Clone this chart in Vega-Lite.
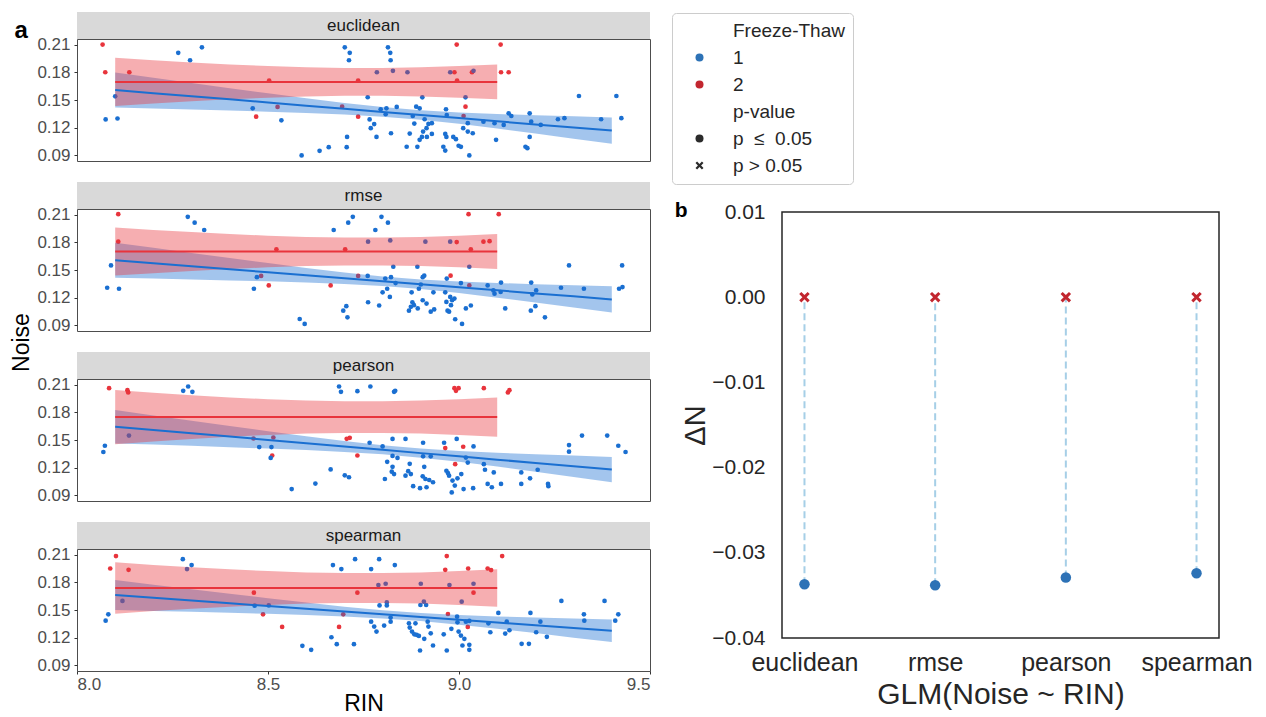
{
"$schema": "https://vega.github.io/schema/vega-lite/v6.json",
"background": "white",
"padding": {"left": 10, "top": 11, "right": 8, "bottom": 0},
"config": {"font": "Liberation Sans", "view": {"stroke": null}},
"datasets": {
"pts": [
{"metric":"euclidean","ft":"2","RIN":8.067,"Noise":0.210},{"metric":"euclidean","ft":"2","RIN":8.074,"Noise":0.180},{"metric":"euclidean","ft":"2","RIN":8.137,"Noise":0.180},{"metric":"euclidean","ft":"2","RIN":8.469,"Noise":0.132},{"metric":"euclidean","ft":"2","RIN":8.503,"Noise":0.171},{"metric":"euclidean","ft":"2","RIN":8.525,"Noise":0.1425},{"metric":"euclidean","ft":"2","RIN":8.694,"Noise":0.1428},{"metric":"euclidean","ft":"2","RIN":8.736,"Noise":0.132},{"metric":"euclidean","ft":"2","RIN":8.736,"Noise":0.171},{"metric":"euclidean","ft":"2","RIN":8.988,"Noise":0.180},{"metric":"euclidean","ft":"2","RIN":8.994,"Noise":0.210},{"metric":"euclidean","ft":"2","RIN":8.995,"Noise":0.171},{"metric":"euclidean","ft":"2","RIN":9.017,"Noise":0.1428},{"metric":"euclidean","ft":"2","RIN":9.012,"Noise":0.1327},{"metric":"euclidean","ft":"2","RIN":9.034,"Noise":0.180},{"metric":"euclidean","ft":"2","RIN":9.109,"Noise":0.210},{"metric":"euclidean","ft":"2","RIN":9.110,"Noise":0.180},{"metric":"euclidean","ft":"2","RIN":9.130,"Noise":0.180},
{"metric":"euclidean","ft":"1","RIN":8.100,"Noise":0.154},{"metric":"euclidean","ft":"1","RIN":8.075,"Noise":0.129},{"metric":"euclidean","ft":"1","RIN":8.106,"Noise":0.130},{"metric":"euclidean","ft":"1","RIN":8.265,"Noise":0.201},{"metric":"euclidean","ft":"1","RIN":8.296,"Noise":0.193},{"metric":"euclidean","ft":"1","RIN":8.327,"Noise":0.207},{"metric":"euclidean","ft":"1","RIN":8.460,"Noise":0.141},{"metric":"euclidean","ft":"1","RIN":8.535,"Noise":0.128},{"metric":"euclidean","ft":"1","RIN":8.588,"Noise":0.090},{"metric":"euclidean","ft":"1","RIN":8.635,"Noise":0.095},{"metric":"euclidean","ft":"1","RIN":8.659,"Noise":0.099},{"metric":"euclidean","ft":"1","RIN":8.701,"Noise":0.207},{"metric":"euclidean","ft":"1","RIN":8.714,"Noise":0.201},{"metric":"euclidean","ft":"1","RIN":8.712,"Noise":0.193},{"metric":"euclidean","ft":"1","RIN":8.707,"Noise":0.110},{"metric":"euclidean","ft":"1","RIN":8.706,"Noise":0.099},
{"metric":"euclidean","ft":"1","RIN":8.761,"Noise":0.153},{"metric":"euclidean","ft":"1","RIN":8.766,"Noise":0.129},{"metric":"euclidean","ft":"1","RIN":8.769,"Noise":0.1195},{"metric":"euclidean","ft":"1","RIN":8.778,"Noise":0.124},{"metric":"euclidean","ft":"1","RIN":8.784,"Noise":0.110},{"metric":"euclidean","ft":"1","RIN":8.785,"Noise":0.180},{"metric":"euclidean","ft":"1","RIN":8.795,"Noise":0.140},{"metric":"euclidean","ft":"1","RIN":8.810,"Noise":0.141},{"metric":"euclidean","ft":"1","RIN":8.808,"Noise":0.1346},{"metric":"euclidean","ft":"1","RIN":8.814,"Noise":0.207},{"metric":"euclidean","ft":"1","RIN":8.820,"Noise":0.201},{"metric":"euclidean","ft":"1","RIN":8.821,"Noise":0.193},{"metric":"euclidean","ft":"1","RIN":8.827,"Noise":0.1816},{"metric":"euclidean","ft":"1","RIN":8.822,"Noise":0.114},{"metric":"euclidean","ft":"1","RIN":8.837,"Noise":0.1425},{"metric":"euclidean","ft":"1","RIN":8.865,"Noise":0.180},{"metric":"euclidean","ft":"1","RIN":8.863,"Noise":0.0994},{"metric":"euclidean","ft":"1","RIN":8.871,"Noise":0.1137},{"metric":"euclidean","ft":"1","RIN":8.879,"Noise":0.1327},{"metric":"euclidean","ft":"1","RIN":8.883,"Noise":0.1245},{"metric":"euclidean","ft":"1","RIN":8.888,"Noise":0.1428},{"metric":"euclidean","ft":"1","RIN":8.897,"Noise":0.141},{"metric":"euclidean","ft":"1","RIN":8.904,"Noise":0.1529},{"metric":"euclidean","ft":"1","RIN":8.910,"Noise":0.1292},{"metric":"euclidean","ft":"1","RIN":8.891,"Noise":0.0993},{"metric":"euclidean","ft":"1","RIN":8.897,"Noise":0.1069},{"metric":"euclidean","ft":"1","RIN":8.903,"Noise":0.110},{"metric":"euclidean","ft":"1","RIN":8.906,"Noise":0.1158},{"metric":"euclidean","ft":"1","RIN":8.915,"Noise":0.1195},{"metric":"euclidean","ft":"1","RIN":8.920,"Noise":0.1241},{"metric":"euclidean","ft":"1","RIN":8.916,"Noise":0.110},{"metric":"euclidean","ft":"1","RIN":8.929,"Noise":0.1133},{"metric":"euclidean","ft":"1","RIN":8.929,"Noise":0.1249},{"metric":"euclidean","ft":"1","RIN":8.959,"Noise":0.0994},{"metric":"euclidean","ft":"1","RIN":8.964,"Noise":0.0953},{"metric":"euclidean","ft":"1","RIN":8.964,"Noise":0.1133},{"metric":"euclidean","ft":"1","RIN":8.967,"Noise":0.110},{"metric":"euclidean","ft":"1","RIN":8.966,"Noise":0.140},{"metric":"euclidean","ft":"1","RIN":8.968,"Noise":0.1338},{"metric":"euclidean","ft":"1","RIN":8.977,"Noise":0.180},{"metric":"euclidean","ft":"1","RIN":8.985,"Noise":0.110},{"metric":"euclidean","ft":"1","RIN":8.992,"Noise":0.1076},{"metric":"euclidean","ft":"1","RIN":8.999,"Noise":0.1005},{"metric":"euclidean","ft":"1","RIN":9.005,"Noise":0.0993},{"metric":"euclidean","ft":"1","RIN":9.017,"Noise":0.1529},{"metric":"euclidean","ft":"1","RIN":9.011,"Noise":0.1195},{"metric":"euclidean","ft":"1","RIN":9.023,"Noise":0.1249},{"metric":"euclidean","ft":"1","RIN":9.023,"Noise":0.1158},{"metric":"euclidean","ft":"1","RIN":9.036,"Noise":0.114},{"metric":"euclidean","ft":"1","RIN":9.027,"Noise":0.090},{"metric":"euclidean","ft":"1","RIN":9.038,"Noise":0.1816},{"metric":"euclidean","ft":"1","RIN":9.064,"Noise":0.1266},{"metric":"euclidean","ft":"1","RIN":9.093,"Noise":0.1249},{"metric":"euclidean","ft":"1","RIN":9.097,"Noise":0.1069},{"metric":"euclidean","ft":"1","RIN":9.117,"Noise":0.123},{"metric":"euclidean","ft":"1","RIN":9.130,"Noise":0.1356},{"metric":"euclidean","ft":"1","RIN":9.137,"Noise":0.1327},{"metric":"euclidean","ft":"1","RIN":9.174,"Noise":0.0994},{"metric":"euclidean","ft":"1","RIN":9.179,"Noise":0.0979},{"metric":"euclidean","ft":"1","RIN":9.185,"Noise":0.110},{"metric":"euclidean","ft":"1","RIN":9.185,"Noise":0.1356},{"metric":"euclidean","ft":"1","RIN":9.189,"Noise":0.1266},{"metric":"euclidean","ft":"1","RIN":9.214,"Noise":0.123},{"metric":"euclidean","ft":"1","RIN":9.259,"Noise":0.1292},{"metric":"euclidean","ft":"1","RIN":9.276,"Noise":0.1303},{"metric":"euclidean","ft":"1","RIN":9.314,"Noise":0.1543},{"metric":"euclidean","ft":"1","RIN":9.372,"Noise":0.1292},{"metric":"euclidean","ft":"1","RIN":9.412,"Noise":0.1543},{"metric":"euclidean","ft":"1","RIN":9.425,"Noise":0.1303},
{"metric":"rmse","ft":"2","RIN":8.108,"Noise":0.2104},{"metric":"rmse","ft":"2","RIN":8.108,"Noise":0.1806},{"metric":"rmse","ft":"2","RIN":8.482,"Noise":0.1436},{"metric":"rmse","ft":"2","RIN":8.502,"Noise":0.1333},{"metric":"rmse","ft":"2","RIN":8.522,"Noise":0.1724},{"metric":"rmse","ft":"2","RIN":8.664,"Noise":0.1333},{"metric":"rmse","ft":"2","RIN":8.702,"Noise":0.1724},{"metric":"rmse","ft":"2","RIN":8.736,"Noise":0.1436},{"metric":"rmse","ft":"2","RIN":8.994,"Noise":0.1802},{"metric":"rmse","ft":"2","RIN":9.025,"Noise":0.2104},{"metric":"rmse","ft":"2","RIN":8.978,"Noise":0.1439},{"metric":"rmse","ft":"2","RIN":9.031,"Noise":0.1724},{"metric":"rmse","ft":"2","RIN":9.027,"Noise":0.1333},{"metric":"rmse","ft":"2","RIN":9.064,"Noise":0.1806},{"metric":"rmse","ft":"2","RIN":9.080,"Noise":0.1812},{"metric":"rmse","ft":"2","RIN":9.104,"Noise":0.2104},
{"metric":"rmse","ft":"1","RIN":8.089,"Noise":0.155},{"metric":"rmse","ft":"1","RIN":8.079,"Noise":0.1308},{"metric":"rmse","ft":"1","RIN":8.110,"Noise":0.1297},{"metric":"rmse","ft":"1","RIN":8.290,"Noise":0.2075},{"metric":"rmse","ft":"1","RIN":8.308,"Noise":0.2012},{"metric":"rmse","ft":"1","RIN":8.333,"Noise":0.1933},{"metric":"rmse","ft":"1","RIN":8.463,"Noise":0.1297},{"metric":"rmse","ft":"1","RIN":8.471,"Noise":0.1422},{"metric":"rmse","ft":"1","RIN":8.583,"Noise":0.097},{"metric":"rmse","ft":"1","RIN":8.596,"Noise":0.0917},{"metric":"rmse","ft":"1","RIN":8.672,"Noise":0.1933},{"metric":"rmse","ft":"1","RIN":8.710,"Noise":0.2012},{"metric":"rmse","ft":"1","RIN":8.722,"Noise":0.2075},{"metric":"rmse","ft":"1","RIN":8.697,"Noise":0.106},{"metric":"rmse","ft":"1","RIN":8.705,"Noise":0.1109},{"metric":"rmse","ft":"1","RIN":8.708,"Noise":0.0988},
{"metric":"rmse","ft":"1","RIN":8.761,"Noise":0.1436},{"metric":"rmse","ft":"1","RIN":8.762,"Noise":0.1151},{"metric":"rmse","ft":"1","RIN":8.762,"Noise":0.1806},{"metric":"rmse","ft":"1","RIN":8.781,"Noise":0.1933},{"metric":"rmse","ft":"1","RIN":8.797,"Noise":0.2075},{"metric":"rmse","ft":"1","RIN":8.814,"Noise":0.2012},{"metric":"rmse","ft":"1","RIN":8.791,"Noise":0.1116},{"metric":"rmse","ft":"1","RIN":8.800,"Noise":0.1258},{"metric":"rmse","ft":"1","RIN":8.807,"Noise":0.1407},{"metric":"rmse","ft":"1","RIN":8.812,"Noise":0.1297},{"metric":"rmse","ft":"1","RIN":8.820,"Noise":0.182},{"metric":"rmse","ft":"1","RIN":8.822,"Noise":0.1422},{"metric":"rmse","ft":"1","RIN":8.819,"Noise":0.1209},{"metric":"rmse","ft":"1","RIN":8.828,"Noise":0.1535},{"metric":"rmse","ft":"1","RIN":8.834,"Noise":0.1358},{"metric":"rmse","ft":"1","RIN":8.869,"Noise":0.106},{"metric":"rmse","ft":"1","RIN":8.874,"Noise":0.1102},{"metric":"rmse","ft":"1","RIN":8.878,"Noise":0.1151},{"metric":"rmse","ft":"1","RIN":8.876,"Noise":0.1258},{"metric":"rmse","ft":"1","RIN":8.882,"Noise":0.1119},{"metric":"rmse","ft":"1","RIN":8.891,"Noise":0.1535},{"metric":"rmse","ft":"1","RIN":8.892,"Noise":0.1084},{"metric":"rmse","ft":"1","RIN":8.895,"Noise":0.1297},{"metric":"rmse","ft":"1","RIN":8.900,"Noise":0.1343},{"metric":"rmse","ft":"1","RIN":8.905,"Noise":0.1422},{"metric":"rmse","ft":"1","RIN":8.909,"Noise":0.1439},{"metric":"rmse","ft":"1","RIN":8.905,"Noise":0.1173},{"metric":"rmse","ft":"1","RIN":8.915,"Noise":0.1137},{"metric":"rmse","ft":"1","RIN":8.912,"Noise":0.1806},{"metric":"rmse","ft":"1","RIN":8.926,"Noise":0.1049},{"metric":"rmse","ft":"1","RIN":8.935,"Noise":0.1073},{"metric":"rmse","ft":"1","RIN":8.933,"Noise":0.1258},{"metric":"rmse","ft":"1","RIN":8.964,"Noise":0.1258},{"metric":"rmse","ft":"1","RIN":8.968,"Noise":0.1407},{"metric":"rmse","ft":"1","RIN":8.967,"Noise":0.1155},{"metric":"rmse","ft":"1","RIN":8.970,"Noise":0.106},{"metric":"rmse","ft":"1","RIN":8.977,"Noise":0.1209},{"metric":"rmse","ft":"1","RIN":8.979,"Noise":0.1119},{"metric":"rmse","ft":"1","RIN":8.982,"Noise":0.1173},{"metric":"rmse","ft":"1","RIN":8.988,"Noise":0.1191},{"metric":"rmse","ft":"1","RIN":8.974,"Noise":0.1049},{"metric":"rmse","ft":"1","RIN":8.990,"Noise":0.0967},{"metric":"rmse","ft":"1","RIN":9.008,"Noise":0.0917},{"metric":"rmse","ft":"1","RIN":8.977,"Noise":0.1806},{"metric":"rmse","ft":"1","RIN":9.005,"Noise":0.1358},{"metric":"rmse","ft":"1","RIN":9.027,"Noise":0.1535},{"metric":"rmse","ft":"1","RIN":9.018,"Noise":0.1084},{"metric":"rmse","ft":"1","RIN":9.031,"Noise":0.1116},{"metric":"rmse","ft":"1","RIN":9.075,"Noise":0.1333},{"metric":"rmse","ft":"1","RIN":9.090,"Noise":0.1279},{"metric":"rmse","ft":"1","RIN":9.093,"Noise":0.1244},{"metric":"rmse","ft":"1","RIN":9.109,"Noise":0.1262},{"metric":"rmse","ft":"1","RIN":9.110,"Noise":0.1364},{"metric":"rmse","ft":"1","RIN":9.121,"Noise":0.1084},{"metric":"rmse","ft":"1","RIN":9.189,"Noise":0.1364},{"metric":"rmse","ft":"1","RIN":9.192,"Noise":0.1236},{"metric":"rmse","ft":"1","RIN":9.202,"Noise":0.1279},{"metric":"rmse","ft":"1","RIN":9.188,"Noise":0.106},{"metric":"rmse","ft":"1","RIN":9.200,"Noise":0.1109},{"metric":"rmse","ft":"1","RIN":9.225,"Noise":0.0988},{"metric":"rmse","ft":"1","RIN":9.267,"Noise":0.1308},{"metric":"rmse","ft":"1","RIN":9.288,"Noise":0.155},{"metric":"rmse","ft":"1","RIN":9.327,"Noise":0.1297},{"metric":"rmse","ft":"1","RIN":9.419,"Noise":0.1297},{"metric":"rmse","ft":"1","RIN":9.428,"Noise":0.1315},{"metric":"rmse","ft":"1","RIN":9.427,"Noise":0.155},
{"metric":"pearson","ft":"2","RIN":8.084,"Noise":0.2061},{"metric":"pearson","ft":"2","RIN":8.132,"Noise":0.2039},{"metric":"pearson","ft":"2","RIN":8.134,"Noise":0.2015},{"metric":"pearson","ft":"2","RIN":8.462,"Noise":0.1516},{"metric":"pearson","ft":"2","RIN":8.514,"Noise":0.1527},{"metric":"pearson","ft":"2","RIN":8.511,"Noise":0.1332},{"metric":"pearson","ft":"2","RIN":8.706,"Noise":0.1513},{"metric":"pearson","ft":"2","RIN":8.714,"Noise":0.1524},{"metric":"pearson","ft":"2","RIN":8.734,"Noise":0.1332},{"metric":"pearson","ft":"2","RIN":8.988,"Noise":0.2061},{"metric":"pearson","ft":"2","RIN":8.992,"Noise":0.2032},{"metric":"pearson","ft":"2","RIN":8.999,"Noise":0.2061},{"metric":"pearson","ft":"2","RIN":9.065,"Noise":0.2061},{"metric":"pearson","ft":"2","RIN":9.128,"Noise":0.2015},{"metric":"pearson","ft":"2","RIN":9.132,"Noise":0.2039},{"metric":"pearson","ft":"2","RIN":8.964,"Noise":0.1413},{"metric":"pearson","ft":"2","RIN":9.011,"Noise":0.1427},{"metric":"pearson","ft":"2","RIN":8.990,"Noise":0.1238},
{"metric":"pearson","ft":"1","RIN":8.073,"Noise":0.1438},{"metric":"pearson","ft":"1","RIN":8.069,"Noise":0.137},{"metric":"pearson","ft":"1","RIN":8.136,"Noise":0.1548},{"metric":"pearson","ft":"1","RIN":8.278,"Noise":0.2032},{"metric":"pearson","ft":"1","RIN":8.291,"Noise":0.2079},{"metric":"pearson","ft":"1","RIN":8.302,"Noise":0.2021},{"metric":"pearson","ft":"1","RIN":8.477,"Noise":0.1423},{"metric":"pearson","ft":"1","RIN":8.509,"Noise":0.1423},{"metric":"pearson","ft":"1","RIN":8.507,"Noise":0.1306},{"metric":"pearson","ft":"1","RIN":8.562,"Noise":0.0969},{"metric":"pearson","ft":"1","RIN":8.624,"Noise":0.1028},{"metric":"pearson","ft":"1","RIN":8.664,"Noise":0.1182},{"metric":"pearson","ft":"1","RIN":8.701,"Noise":0.1118},{"metric":"pearson","ft":"1","RIN":8.712,"Noise":0.1097},{"metric":"pearson","ft":"1","RIN":8.686,"Noise":0.2079},{"metric":"pearson","ft":"1","RIN":8.691,"Noise":0.2021},{"metric":"pearson","ft":"1","RIN":8.734,"Noise":0.2028},
{"metric":"pearson","ft":"1","RIN":8.768,"Noise":0.2079},{"metric":"pearson","ft":"1","RIN":8.830,"Noise":0.2021},{"metric":"pearson","ft":"1","RIN":8.833,"Noise":0.2032},{"metric":"pearson","ft":"1","RIN":8.826,"Noise":0.1512},{"metric":"pearson","ft":"1","RIN":8.860,"Noise":0.1512},{"metric":"pearson","ft":"1","RIN":8.994,"Noise":0.1512},{"metric":"pearson","ft":"1","RIN":8.766,"Noise":0.147},{"metric":"pearson","ft":"1","RIN":8.800,"Noise":0.143},{"metric":"pearson","ft":"1","RIN":8.906,"Noise":0.147},{"metric":"pearson","ft":"1","RIN":8.961,"Noise":0.147},{"metric":"pearson","ft":"1","RIN":9.038,"Noise":0.143},{"metric":"pearson","ft":"1","RIN":8.826,"Noise":0.1328},{"metric":"pearson","ft":"1","RIN":8.839,"Noise":0.1306},{"metric":"pearson","ft":"1","RIN":8.812,"Noise":0.1264},{"metric":"pearson","ft":"1","RIN":8.826,"Noise":0.121},{"metric":"pearson","ft":"1","RIN":8.824,"Noise":0.1157},{"metric":"pearson","ft":"1","RIN":8.830,"Noise":0.1131},{"metric":"pearson","ft":"1","RIN":8.806,"Noise":0.1078},{"metric":"pearson","ft":"1","RIN":8.871,"Noise":0.1242},{"metric":"pearson","ft":"1","RIN":8.867,"Noise":0.1163},{"metric":"pearson","ft":"1","RIN":8.860,"Noise":0.1114},{"metric":"pearson","ft":"1","RIN":8.874,"Noise":0.1131},{"metric":"pearson","ft":"1","RIN":8.906,"Noise":0.1323},{"metric":"pearson","ft":"1","RIN":8.926,"Noise":0.1323},{"metric":"pearson","ft":"1","RIN":8.909,"Noise":0.121},{"metric":"pearson","ft":"1","RIN":8.905,"Noise":0.1107},{"metric":"pearson","ft":"1","RIN":8.912,"Noise":0.1078},{"metric":"pearson","ft":"1","RIN":8.922,"Noise":0.1067},{"metric":"pearson","ft":"1","RIN":8.932,"Noise":0.1043},{"metric":"pearson","ft":"1","RIN":8.880,"Noise":0.1},{"metric":"pearson","ft":"1","RIN":8.898,"Noise":0.0979},{"metric":"pearson","ft":"1","RIN":8.915,"Noise":0.0989},{"metric":"pearson","ft":"1","RIN":8.967,"Noise":0.1167},{"metric":"pearson","ft":"1","RIN":8.974,"Noise":0.1114},{"metric":"pearson","ft":"1","RIN":8.983,"Noise":0.1061},{"metric":"pearson","ft":"1","RIN":8.971,"Noise":0.1142},{"metric":"pearson","ft":"1","RIN":8.989,"Noise":0.1007},{"metric":"pearson","ft":"1","RIN":8.981,"Noise":0.0933},{"metric":"pearson","ft":"1","RIN":9.012,"Noise":0.0969},{"metric":"pearson","ft":"1","RIN":8.996,"Noise":0.1085},{"metric":"pearson","ft":"1","RIN":9.006,"Noise":0.1131},{"metric":"pearson","ft":"1","RIN":9.018,"Noise":0.131},{"metric":"pearson","ft":"1","RIN":9.023,"Noise":0.1256},{"metric":"pearson","ft":"1","RIN":9.037,"Noise":0.0979},{"metric":"pearson","ft":"1","RIN":9.065,"Noise":0.1238},{"metric":"pearson","ft":"1","RIN":9.068,"Noise":0.1178},{"metric":"pearson","ft":"1","RIN":9.091,"Noise":0.1149},{"metric":"pearson","ft":"1","RIN":9.075,"Noise":0.1025},{"metric":"pearson","ft":"1","RIN":9.086,"Noise":0.0989},{"metric":"pearson","ft":"1","RIN":9.110,"Noise":0.1025},{"metric":"pearson","ft":"1","RIN":9.163,"Noise":0.1149},{"metric":"pearson","ft":"1","RIN":9.163,"Noise":0.1025},{"metric":"pearson","ft":"1","RIN":9.186,"Noise":0.1085},{"metric":"pearson","ft":"1","RIN":9.206,"Noise":0.1178},{"metric":"pearson","ft":"1","RIN":9.233,"Noise":0.1025},{"metric":"pearson","ft":"1","RIN":9.234,"Noise":0.1},{"metric":"pearson","ft":"1","RIN":9.288,"Noise":0.1445},{"metric":"pearson","ft":"1","RIN":9.288,"Noise":0.1374},{"metric":"pearson","ft":"1","RIN":9.322,"Noise":0.1548},{"metric":"pearson","ft":"1","RIN":9.388,"Noise":0.1548},{"metric":"pearson","ft":"1","RIN":9.417,"Noise":0.1438},{"metric":"pearson","ft":"1","RIN":9.436,"Noise":0.137},
{"metric":"spearman","ft":"2","RIN":8.102,"Noise":0.2083},{"metric":"spearman","ft":"2","RIN":8.087,"Noise":0.1949},{"metric":"spearman","ft":"2","RIN":8.135,"Noise":0.1935},{"metric":"spearman","ft":"2","RIN":8.463,"Noise":0.1687},{"metric":"spearman","ft":"2","RIN":8.487,"Noise":0.1453},{"metric":"spearman","ft":"2","RIN":8.537,"Noise":0.1317},{"metric":"spearman","ft":"2","RIN":8.686,"Noise":0.1317},{"metric":"spearman","ft":"2","RIN":8.697,"Noise":0.1453},{"metric":"spearman","ft":"2","RIN":8.734,"Noise":0.1687},{"metric":"spearman","ft":"2","RIN":8.964,"Noise":0.1935},{"metric":"spearman","ft":"2","RIN":8.968,"Noise":0.2083},{"metric":"spearman","ft":"2","RIN":8.971,"Noise":0.1457},{"metric":"spearman","ft":"2","RIN":9.023,"Noise":0.1317},{"metric":"spearman","ft":"2","RIN":9.024,"Noise":0.1949},{"metric":"spearman","ft":"2","RIN":9.038,"Noise":0.1687},{"metric":"spearman","ft":"2","RIN":9.075,"Noise":0.1949},{"metric":"spearman","ft":"2","RIN":9.084,"Noise":0.1932},{"metric":"spearman","ft":"2","RIN":9.113,"Noise":0.2083},
{"metric":"spearman","ft":"1","RIN":8.082,"Noise":0.1453},{"metric":"spearman","ft":"1","RIN":8.075,"Noise":0.1385},{"metric":"spearman","ft":"1","RIN":8.119,"Noise":0.1598},{"metric":"spearman","ft":"1","RIN":8.277,"Noise":0.205},{"metric":"spearman","ft":"1","RIN":8.288,"Noise":0.1943},{"metric":"spearman","ft":"1","RIN":8.300,"Noise":0.1986},{"metric":"spearman","ft":"1","RIN":8.465,"Noise":0.1547},{"metric":"spearman","ft":"1","RIN":8.502,"Noise":0.155},{"metric":"spearman","ft":"1","RIN":8.590,"Noise":0.1112},{"metric":"spearman","ft":"1","RIN":8.613,"Noise":0.1069},{"metric":"spearman","ft":"1","RIN":8.666,"Noise":0.1205},{"metric":"spearman","ft":"1","RIN":8.680,"Noise":0.113},{"metric":"spearman","ft":"1","RIN":8.725,"Noise":0.113},{"metric":"spearman","ft":"1","RIN":8.670,"Noise":0.1986},{"metric":"spearman","ft":"1","RIN":8.692,"Noise":0.1943},{"metric":"spearman","ft":"1","RIN":8.728,"Noise":0.205},
{"metric":"spearman","ft":"1","RIN":8.770,"Noise":0.1943},{"metric":"spearman","ft":"1","RIN":8.791,"Noise":0.205},{"metric":"spearman","ft":"1","RIN":8.789,"Noise":0.177},{"metric":"spearman","ft":"1","RIN":8.808,"Noise":0.1784},{"metric":"spearman","ft":"1","RIN":8.832,"Noise":0.1986},{"metric":"spearman","ft":"1","RIN":8.792,"Noise":0.155},{"metric":"spearman","ft":"1","RIN":8.811,"Noise":0.1582},{"metric":"spearman","ft":"1","RIN":8.811,"Noise":0.155},{"metric":"spearman","ft":"1","RIN":8.821,"Noise":0.1418},{"metric":"spearman","ft":"1","RIN":8.821,"Noise":0.1374},{"metric":"spearman","ft":"1","RIN":8.770,"Noise":0.1374},{"metric":"spearman","ft":"1","RIN":8.778,"Noise":0.1321},{"metric":"spearman","ft":"1","RIN":8.784,"Noise":0.1267},{"metric":"spearman","ft":"1","RIN":8.804,"Noise":0.1331},{"metric":"spearman","ft":"1","RIN":8.869,"Noise":0.1356},{"metric":"spearman","ft":"1","RIN":8.871,"Noise":0.131},{"metric":"spearman","ft":"1","RIN":8.886,"Noise":0.1356},{"metric":"spearman","ft":"1","RIN":8.877,"Noise":0.1267},{"metric":"spearman","ft":"1","RIN":8.883,"Noise":0.1237},{"metric":"spearman","ft":"1","RIN":8.889,"Noise":0.1231},{"metric":"spearman","ft":"1","RIN":8.895,"Noise":0.122},{"metric":"spearman","ft":"1","RIN":8.909,"Noise":0.1188},{"metric":"spearman","ft":"1","RIN":8.898,"Noise":0.1062},{"metric":"spearman","ft":"1","RIN":8.932,"Noise":0.1116},{"metric":"spearman","ft":"1","RIN":8.899,"Noise":0.1554},{"metric":"spearman","ft":"1","RIN":8.908,"Noise":0.159},{"metric":"spearman","ft":"1","RIN":8.914,"Noise":0.1554},{"metric":"spearman","ft":"1","RIN":8.900,"Noise":0.1784},{"metric":"spearman","ft":"1","RIN":8.918,"Noise":0.1374},{"metric":"spearman","ft":"1","RIN":8.920,"Noise":0.1321},{"metric":"spearman","ft":"1","RIN":8.926,"Noise":0.1248},{"metric":"spearman","ft":"1","RIN":8.960,"Noise":0.1237},{"metric":"spearman","ft":"1","RIN":8.968,"Noise":0.1062},{"metric":"spearman","ft":"1","RIN":8.975,"Noise":0.177},{"metric":"spearman","ft":"1","RIN":8.980,"Noise":0.1296},{"metric":"spearman","ft":"1","RIN":8.995,"Noise":0.1428},{"metric":"spearman","ft":"1","RIN":8.996,"Noise":0.1367},{"metric":"spearman","ft":"1","RIN":8.999,"Noise":0.1267},{"metric":"spearman","ft":"1","RIN":9.005,"Noise":0.1223},{"metric":"spearman","ft":"1","RIN":9.014,"Noise":0.1188},{"metric":"spearman","ft":"1","RIN":9.009,"Noise":0.1116},{"metric":"spearman","ft":"1","RIN":9.007,"Noise":0.159},{"metric":"spearman","ft":"1","RIN":9.018,"Noise":0.1374},{"metric":"spearman","ft":"1","RIN":9.027,"Noise":0.1382},{"metric":"spearman","ft":"1","RIN":9.027,"Noise":0.1123},{"metric":"spearman","ft":"1","RIN":9.027,"Noise":0.1069},{"metric":"spearman","ft":"1","RIN":9.038,"Noise":0.1784},{"metric":"spearman","ft":"1","RIN":9.077,"Noise":0.1356},{"metric":"spearman","ft":"1","RIN":9.082,"Noise":0.1259},{"metric":"spearman","ft":"1","RIN":9.103,"Noise":0.1468},{"metric":"spearman","ft":"1","RIN":9.125,"Noise":0.1374},{"metric":"spearman","ft":"1","RIN":9.121,"Noise":0.1245},{"metric":"spearman","ft":"1","RIN":9.132,"Noise":0.1281},{"metric":"spearman","ft":"1","RIN":9.164,"Noise":0.1134},{"metric":"spearman","ft":"1","RIN":9.183,"Noise":0.1134},{"metric":"spearman","ft":"1","RIN":9.187,"Noise":0.1468},{"metric":"spearman","ft":"1","RIN":9.202,"Noise":0.1259},{"metric":"spearman","ft":"1","RIN":9.213,"Noise":0.1374},{"metric":"spearman","ft":"1","RIN":9.230,"Noise":0.121},{"metric":"spearman","ft":"1","RIN":9.268,"Noise":0.1598},{"metric":"spearman","ft":"1","RIN":9.327,"Noise":0.1453},{"metric":"spearman","ft":"1","RIN":9.328,"Noise":0.1385},{"metric":"spearman","ft":"1","RIN":9.381,"Noise":0.1598},{"metric":"spearman","ft":"1","RIN":9.409,"Noise":0.1385},{"metric":"spearman","ft":"1","RIN":9.417,"Noise":0.1453}
],
"fit": [
{"metric":"euclidean","ft":"1","RIN":8.1,"fit":0.1608,"lo":0.1418,"hi":0.1798},{"metric":"euclidean","ft":"1","RIN":8.2,"fit":0.1574,"lo":0.1408,"hi":0.1741},{"metric":"euclidean","ft":"1","RIN":8.3,"fit":0.1540,"lo":0.1397,"hi":0.1683},{"metric":"euclidean","ft":"1","RIN":8.4,"fit":0.1507,"lo":0.1386,"hi":0.1628},{"metric":"euclidean","ft":"1","RIN":8.5,"fit":0.1473,"lo":0.1374,"hi":0.1572},{"metric":"euclidean","ft":"1","RIN":8.6,"fit":0.1439,"lo":0.1360,"hi":0.1518},{"metric":"euclidean","ft":"1","RIN":8.7,"fit":0.1405,"lo":0.1343,"hi":0.1467},{"metric":"euclidean","ft":"1","RIN":8.8,"fit":0.1371,"lo":0.1320,"hi":0.1423},{"metric":"euclidean","ft":"1","RIN":8.9,"fit":0.1338,"lo":0.1287,"hi":0.1390},{"metric":"euclidean","ft":"1","RIN":9.0,"fit":0.1304,"lo":0.1242,"hi":0.1366},{"metric":"euclidean","ft":"1","RIN":9.1,"fit":0.1270,"lo":0.1191,"hi":0.1349},{"metric":"euclidean","ft":"1","RIN":9.2,"fit":0.1236,"lo":0.1137,"hi":0.1335},{"metric":"euclidean","ft":"1","RIN":9.3,"fit":0.1202,"lo":0.1081,"hi":0.1323},{"metric":"euclidean","ft":"1","RIN":9.4,"fit":0.1169,"lo":0.1026,"hi":0.1312},
{"metric":"euclidean","ft":"2","RIN":8.1,"fit":0.1696,"lo":0.1436,"hi":0.1956},{"metric":"euclidean","ft":"2","RIN":8.2,"fit":0.1696,"lo":0.1462,"hi":0.1930},{"metric":"euclidean","ft":"2","RIN":8.3,"fit":0.1696,"lo":0.1486,"hi":0.1906},{"metric":"euclidean","ft":"2","RIN":8.4,"fit":0.1696,"lo":0.1507,"hi":0.1885},{"metric":"euclidean","ft":"2","RIN":8.5,"fit":0.1696,"lo":0.1525,"hi":0.1867},{"metric":"euclidean","ft":"2","RIN":8.6,"fit":0.1696,"lo":0.1538,"hi":0.1854},{"metric":"euclidean","ft":"2","RIN":8.7,"fit":0.1696,"lo":0.1545,"hi":0.1847},{"metric":"euclidean","ft":"2","RIN":8.8,"fit":0.1696,"lo":0.1545,"hi":0.1847},{"metric":"euclidean","ft":"2","RIN":8.9,"fit":0.1696,"lo":0.1538,"hi":0.1854},{"metric":"euclidean","ft":"2","RIN":9.0,"fit":0.1696,"lo":0.1525,"hi":0.1867},{"metric":"euclidean","ft":"2","RIN":9.1,"fit":0.1696,"lo":0.1507,"hi":0.1885},
{"metric":"rmse","ft":"1","RIN":8.1,"fit":0.1606,"lo":0.1416,"hi":0.1796},{"metric":"rmse","ft":"1","RIN":8.2,"fit":0.1573,"lo":0.1407,"hi":0.1740},{"metric":"rmse","ft":"1","RIN":8.3,"fit":0.1541,"lo":0.1398,"hi":0.1684},{"metric":"rmse","ft":"1","RIN":8.4,"fit":0.1508,"lo":0.1387,"hi":0.1629},{"metric":"rmse","ft":"1","RIN":8.5,"fit":0.1476,"lo":0.1377,"hi":0.1575},{"metric":"rmse","ft":"1","RIN":8.6,"fit":0.1443,"lo":0.1364,"hi":0.1522},{"metric":"rmse","ft":"1","RIN":8.7,"fit":0.1410,"lo":0.1348,"hi":0.1472},{"metric":"rmse","ft":"1","RIN":8.8,"fit":0.1378,"lo":0.1327,"hi":0.1430},{"metric":"rmse","ft":"1","RIN":8.9,"fit":0.1345,"lo":0.1294,"hi":0.1397},{"metric":"rmse","ft":"1","RIN":9.0,"fit":0.1313,"lo":0.1251,"hi":0.1375},{"metric":"rmse","ft":"1","RIN":9.1,"fit":0.1280,"lo":0.1201,"hi":0.1359},{"metric":"rmse","ft":"1","RIN":9.2,"fit":0.1247,"lo":0.1148,"hi":0.1346},{"metric":"rmse","ft":"1","RIN":9.3,"fit":0.1215,"lo":0.1094,"hi":0.1336},{"metric":"rmse","ft":"1","RIN":9.4,"fit":0.1182,"lo":0.1039,"hi":0.1325},
{"metric":"rmse","ft":"2","RIN":8.1,"fit":0.1700,"lo":0.1440,"hi":0.1960},{"metric":"rmse","ft":"2","RIN":8.2,"fit":0.1700,"lo":0.1466,"hi":0.1934},{"metric":"rmse","ft":"2","RIN":8.3,"fit":0.1700,"lo":0.1490,"hi":0.1910},{"metric":"rmse","ft":"2","RIN":8.4,"fit":0.1700,"lo":0.1511,"hi":0.1889},{"metric":"rmse","ft":"2","RIN":8.5,"fit":0.1700,"lo":0.1529,"hi":0.1871},{"metric":"rmse","ft":"2","RIN":8.6,"fit":0.1700,"lo":0.1542,"hi":0.1858},{"metric":"rmse","ft":"2","RIN":8.7,"fit":0.1700,"lo":0.1549,"hi":0.1851},{"metric":"rmse","ft":"2","RIN":8.8,"fit":0.1700,"lo":0.1549,"hi":0.1851},{"metric":"rmse","ft":"2","RIN":8.9,"fit":0.1700,"lo":0.1542,"hi":0.1858},{"metric":"rmse","ft":"2","RIN":9.0,"fit":0.1700,"lo":0.1529,"hi":0.1871},{"metric":"rmse","ft":"2","RIN":9.1,"fit":0.1700,"lo":0.1511,"hi":0.1889},
{"metric":"pearson","ft":"1","RIN":8.1,"fit":0.1644,"lo":0.1463,"hi":0.1825},{"metric":"pearson","ft":"1","RIN":8.2,"fit":0.1608,"lo":0.1450,"hi":0.1766},{"metric":"pearson","ft":"1","RIN":8.3,"fit":0.1573,"lo":0.1437,"hi":0.1709},{"metric":"pearson","ft":"1","RIN":8.4,"fit":0.1537,"lo":0.1422,"hi":0.1652},{"metric":"pearson","ft":"1","RIN":8.5,"fit":0.1501,"lo":0.1407,"hi":0.1595},{"metric":"pearson","ft":"1","RIN":8.6,"fit":0.1466,"lo":0.1391,"hi":0.1541},{"metric":"pearson","ft":"1","RIN":8.7,"fit":0.1430,"lo":0.1371,"hi":0.1489},{"metric":"pearson","ft":"1","RIN":8.8,"fit":0.1394,"lo":0.1345,"hi":0.1443},{"metric":"pearson","ft":"1","RIN":8.9,"fit":0.1358,"lo":0.1309,"hi":0.1407},{"metric":"pearson","ft":"1","RIN":9.0,"fit":0.1323,"lo":0.1264,"hi":0.1382},{"metric":"pearson","ft":"1","RIN":9.1,"fit":0.1287,"lo":0.1212,"hi":0.1362},{"metric":"pearson","ft":"1","RIN":9.2,"fit":0.1251,"lo":0.1157,"hi":0.1345},{"metric":"pearson","ft":"1","RIN":9.3,"fit":0.1216,"lo":0.1101,"hi":0.1331},{"metric":"pearson","ft":"1","RIN":9.4,"fit":0.1180,"lo":0.1044,"hi":0.1316},
{"metric":"pearson","ft":"2","RIN":8.1,"fit":0.1748,"lo":0.1454,"hi":0.2042},{"metric":"pearson","ft":"2","RIN":8.2,"fit":0.1748,"lo":0.1484,"hi":0.2012},{"metric":"pearson","ft":"2","RIN":8.3,"fit":0.1748,"lo":0.1511,"hi":0.1985},{"metric":"pearson","ft":"2","RIN":8.4,"fit":0.1748,"lo":0.1535,"hi":0.1961},{"metric":"pearson","ft":"2","RIN":8.5,"fit":0.1748,"lo":0.1555,"hi":0.1941},{"metric":"pearson","ft":"2","RIN":8.6,"fit":0.1748,"lo":0.1569,"hi":0.1927},{"metric":"pearson","ft":"2","RIN":8.7,"fit":0.1748,"lo":0.1577,"hi":0.1919},{"metric":"pearson","ft":"2","RIN":8.8,"fit":0.1748,"lo":0.1577,"hi":0.1919},{"metric":"pearson","ft":"2","RIN":8.9,"fit":0.1748,"lo":0.1569,"hi":0.1927},{"metric":"pearson","ft":"2","RIN":9.0,"fit":0.1748,"lo":0.1555,"hi":0.1941},{"metric":"pearson","ft":"2","RIN":9.1,"fit":0.1748,"lo":0.1535,"hi":0.1961},
{"metric":"spearman","ft":"1","RIN":8.1,"fit":0.1662,"lo":0.1500,"hi":0.1824},{"metric":"spearman","ft":"1","RIN":8.2,"fit":0.1632,"lo":0.1490,"hi":0.1774},{"metric":"spearman","ft":"1","RIN":8.3,"fit":0.1602,"lo":0.1480,"hi":0.1724},{"metric":"spearman","ft":"1","RIN":8.4,"fit":0.1573,"lo":0.1470,"hi":0.1676},{"metric":"spearman","ft":"1","RIN":8.5,"fit":0.1543,"lo":0.1459,"hi":0.1627},{"metric":"spearman","ft":"1","RIN":8.6,"fit":0.1513,"lo":0.1446,"hi":0.1580},{"metric":"spearman","ft":"1","RIN":8.7,"fit":0.1483,"lo":0.1430,"hi":0.1536},{"metric":"spearman","ft":"1","RIN":8.8,"fit":0.1453,"lo":0.1409,"hi":0.1497},{"metric":"spearman","ft":"1","RIN":8.9,"fit":0.1424,"lo":0.1380,"hi":0.1468},{"metric":"spearman","ft":"1","RIN":9.0,"fit":0.1394,"lo":0.1341,"hi":0.1447},{"metric":"spearman","ft":"1","RIN":9.1,"fit":0.1364,"lo":0.1297,"hi":0.1431},{"metric":"spearman","ft":"1","RIN":9.2,"fit":0.1334,"lo":0.1250,"hi":0.1418},{"metric":"spearman","ft":"1","RIN":9.3,"fit":0.1304,"lo":0.1201,"hi":0.1407},{"metric":"spearman","ft":"1","RIN":9.4,"fit":0.1275,"lo":0.1153,"hi":0.1397},
{"metric":"spearman","ft":"2","RIN":8.1,"fit":0.1738,"lo":0.1460,"hi":0.2016},{"metric":"spearman","ft":"2","RIN":8.2,"fit":0.1738,"lo":0.1488,"hi":0.1988},{"metric":"spearman","ft":"2","RIN":8.3,"fit":0.1738,"lo":0.1513,"hi":0.1963},{"metric":"spearman","ft":"2","RIN":8.4,"fit":0.1738,"lo":0.1536,"hi":0.1940},{"metric":"spearman","ft":"2","RIN":8.5,"fit":0.1738,"lo":0.1555,"hi":0.1921},{"metric":"spearman","ft":"2","RIN":8.6,"fit":0.1738,"lo":0.1569,"hi":0.1907},{"metric":"spearman","ft":"2","RIN":8.7,"fit":0.1738,"lo":0.1576,"hi":0.1900},{"metric":"spearman","ft":"2","RIN":8.8,"fit":0.1738,"lo":0.1576,"hi":0.1900},{"metric":"spearman","ft":"2","RIN":8.9,"fit":0.1738,"lo":0.1569,"hi":0.1907},{"metric":"spearman","ft":"2","RIN":9.0,"fit":0.1738,"lo":0.1555,"hi":0.1921},{"metric":"spearman","ft":"2","RIN":9.1,"fit":0.1738,"lo":0.1536,"hi":0.1940}
],
"glm": [
{"metric":"euclidean","key":"1","dn":-0.0337},{"metric":"rmse","key":"1","dn":-0.0338},{"metric":"pearson","key":"1","dn":-0.0329},{"metric":"spearman","key":"1","dn":-0.0324},
{"metric":"euclidean","key":"2x","dn":0},{"metric":"rmse","key":"2x","dn":0},{"metric":"pearson","key":"2x","dn":0},{"metric":"spearman","key":"2x","dn":0}
]
},
"hconcat": [
{
"title": {"text": "a", "orient": "left", "angle": 0, "anchor": "end", "align": "center", "baseline": "alphabetic", "offset": -24, "dy": 26, "fontSize": 24, "fontWeight": "bold", "color": "#000000"},
"vconcat": [
{
"title": {"text": "Noise", "orient": "left", "anchor": "middle", "fontSize": 23, "fontWeight": "normal", "color": "#000000", "offset": -21, "dx": 21},
"spacing": 17,
"vconcat": [
 {"width": 573, "height": 122, "view": {"stroke": "#4d4d4d", "strokeWidth": 1},
  "layer": [
   {"data": {"values": [{"label": "euclidean"}]}, "mark": {"type": "rect", "color": "#d9d9d9"},
    "encoding": {"x": {"datum": 8, "type": "quantitative", "scale": {"domain": [8, 9.5], "nice": false, "zero": false}, "axis": null}, "x2": {"datum": 9.5}, "y": {"datum": 0.216, "type": "quantitative", "scale": {"domain": [0.084, 0.216], "nice": false, "zero": false}, "axis": {"values": [0.09, 0.12, 0.15, 0.18, 0.21], "tickCount": 10, "format": ".2f", "title": null, "labelFontSize": 17, "labelColor": "#4d4d4d", "tickColor": "#333333", "tickSize": 3, "labelPadding": 4, "labelOverlap": false, "domain": false, "grid": false, "minExtent": 64}}, "y2": {"datum": 0.2452}}},
   {"data": {"values": [{"label": "euclidean"}]}, "mark": {"type": "text", "fontSize": 17, "color": "#1a1a1a", "baseline": "middle"},
    "encoding": {"x": {"datum": 8.75, "type": "quantitative", "axis": null}, "y": {"datum": 0.2306, "type": "quantitative"}, "text": {"field": "label", "type": "nominal"}}},
   {"data": {"name": "pts"}, "transform": [{"filter": "datum.metric === 'euclidean'"}],
    "mark": {"type": "circle", "size": 22, "opacity": 1},
    "encoding": {
     "x": {"field": "RIN", "type": "quantitative", "axis": null},
     "y": {"field": "Noise", "type": "quantitative"},
     "color": {"field": "ft", "type": "nominal", "scale": {"domain": ["1", "2"], "range": ["#1a6fd1", "#e8343c"]}, "legend": null}}},
   {"data": {"name": "fit"}, "transform": [{"filter": "datum.metric === 'euclidean'"}],
    "mark": {"type": "area", "opacity": 0.4},
    "encoding": {"x": {"field": "RIN", "type": "quantitative", "axis": null}, "y": {"field": "lo", "type": "quantitative"}, "y2": {"field": "hi"}, "color": {"field": "ft", "type": "nominal", "legend": null}}},
   {"data": {"name": "fit"}, "transform": [{"filter": "datum.metric === 'euclidean'"}],
    "mark": {"type": "line", "strokeWidth": 2},
    "encoding": {"x": {"field": "RIN", "type": "quantitative", "axis": null}, "y": {"field": "fit", "type": "quantitative"}, "color": {"field": "ft", "type": "nominal", "legend": null}}}
  ]},
 {"width": 573, "height": 122, "view": {"stroke": "#4d4d4d", "strokeWidth": 1},
  "layer": [
   {"data": {"values": [{"label": "rmse"}]}, "mark": {"type": "rect", "color": "#d9d9d9"},
    "encoding": {"x": {"datum": 8, "type": "quantitative", "scale": {"domain": [8, 9.5], "nice": false, "zero": false}, "axis": null}, "x2": {"datum": 9.5}, "y": {"datum": 0.216, "type": "quantitative", "scale": {"domain": [0.084, 0.216], "nice": false, "zero": false}, "axis": {"values": [0.09, 0.12, 0.15, 0.18, 0.21], "tickCount": 10, "format": ".2f", "title": null, "labelFontSize": 17, "labelColor": "#4d4d4d", "tickColor": "#333333", "tickSize": 3, "labelPadding": 4, "labelOverlap": false, "domain": false, "grid": false, "minExtent": 64}}, "y2": {"datum": 0.2452}}},
   {"data": {"values": [{"label": "rmse"}]}, "mark": {"type": "text", "fontSize": 17, "color": "#1a1a1a", "baseline": "middle"},
    "encoding": {"x": {"datum": 8.75, "type": "quantitative", "axis": null}, "y": {"datum": 0.2306, "type": "quantitative"}, "text": {"field": "label", "type": "nominal"}}},
   {"data": {"name": "pts"}, "transform": [{"filter": "datum.metric === 'rmse'"}],
    "mark": {"type": "circle", "size": 22, "opacity": 1},
    "encoding": {
     "x": {"field": "RIN", "type": "quantitative", "axis": null},
     "y": {"field": "Noise", "type": "quantitative"},
     "color": {"field": "ft", "type": "nominal", "scale": {"domain": ["1", "2"], "range": ["#1a6fd1", "#e8343c"]}, "legend": null}}},
   {"data": {"name": "fit"}, "transform": [{"filter": "datum.metric === 'rmse'"}],
    "mark": {"type": "area", "opacity": 0.4},
    "encoding": {"x": {"field": "RIN", "type": "quantitative", "axis": null}, "y": {"field": "lo", "type": "quantitative"}, "y2": {"field": "hi"}, "color": {"field": "ft", "type": "nominal", "legend": null}}},
   {"data": {"name": "fit"}, "transform": [{"filter": "datum.metric === 'rmse'"}],
    "mark": {"type": "line", "strokeWidth": 2},
    "encoding": {"x": {"field": "RIN", "type": "quantitative", "axis": null}, "y": {"field": "fit", "type": "quantitative"}, "color": {"field": "ft", "type": "nominal", "legend": null}}}
  ]},
 {"width": 573, "height": 122, "view": {"stroke": "#4d4d4d", "strokeWidth": 1},
  "layer": [
   {"data": {"values": [{"label": "pearson"}]}, "mark": {"type": "rect", "color": "#d9d9d9"},
    "encoding": {"x": {"datum": 8, "type": "quantitative", "scale": {"domain": [8, 9.5], "nice": false, "zero": false}, "axis": null}, "x2": {"datum": 9.5}, "y": {"datum": 0.216, "type": "quantitative", "scale": {"domain": [0.084, 0.216], "nice": false, "zero": false}, "axis": {"values": [0.09, 0.12, 0.15, 0.18, 0.21], "tickCount": 10, "format": ".2f", "title": null, "labelFontSize": 17, "labelColor": "#4d4d4d", "tickColor": "#333333", "tickSize": 3, "labelPadding": 4, "labelOverlap": false, "domain": false, "grid": false, "minExtent": 64}}, "y2": {"datum": 0.2452}}},
   {"data": {"values": [{"label": "pearson"}]}, "mark": {"type": "text", "fontSize": 17, "color": "#1a1a1a", "baseline": "middle"},
    "encoding": {"x": {"datum": 8.75, "type": "quantitative", "axis": null}, "y": {"datum": 0.2306, "type": "quantitative"}, "text": {"field": "label", "type": "nominal"}}},
   {"data": {"name": "pts"}, "transform": [{"filter": "datum.metric === 'pearson'"}],
    "mark": {"type": "circle", "size": 22, "opacity": 1},
    "encoding": {
     "x": {"field": "RIN", "type": "quantitative", "axis": null},
     "y": {"field": "Noise", "type": "quantitative"},
     "color": {"field": "ft", "type": "nominal", "scale": {"domain": ["1", "2"], "range": ["#1a6fd1", "#e8343c"]}, "legend": null}}},
   {"data": {"name": "fit"}, "transform": [{"filter": "datum.metric === 'pearson'"}],
    "mark": {"type": "area", "opacity": 0.4},
    "encoding": {"x": {"field": "RIN", "type": "quantitative", "axis": null}, "y": {"field": "lo", "type": "quantitative"}, "y2": {"field": "hi"}, "color": {"field": "ft", "type": "nominal", "legend": null}}},
   {"data": {"name": "fit"}, "transform": [{"filter": "datum.metric === 'pearson'"}],
    "mark": {"type": "line", "strokeWidth": 2},
    "encoding": {"x": {"field": "RIN", "type": "quantitative", "axis": null}, "y": {"field": "fit", "type": "quantitative"}, "color": {"field": "ft", "type": "nominal", "legend": null}}}
  ]},
 {"width": 573, "height": 122, "view": {"stroke": "#4d4d4d", "strokeWidth": 1},
  "layer": [
   {"data": {"values": [{"label": "spearman"}]}, "mark": {"type": "rect", "color": "#d9d9d9"},
    "encoding": {"x": {"datum": 8, "type": "quantitative", "scale": {"domain": [8, 9.5], "nice": false, "zero": false}, "axis": {"values": [8, 8.5, 9, 9.5], "tickCount": 10, "format": ".1f", "title": "RIN", "labelFontSize": 17, "labelColor": "#4d4d4d", "tickColor": "#333333", "tickSize": 3, "labelPadding": 2, "labelOverlap": false, "domain": false, "grid": false, "titleFontSize": 23, "titleFontWeight": "normal", "titleColor": "#000000", "titlePadding": 0}}, "x2": {"datum": 9.5}, "y": {"datum": 0.216, "type": "quantitative", "scale": {"domain": [0.084, 0.216], "nice": false, "zero": false}, "axis": {"values": [0.09, 0.12, 0.15, 0.18, 0.21], "tickCount": 10, "format": ".2f", "title": null, "labelFontSize": 17, "labelColor": "#4d4d4d", "tickColor": "#333333", "tickSize": 3, "labelPadding": 4, "labelOverlap": false, "domain": false, "grid": false, "minExtent": 64}}, "y2": {"datum": 0.2452}}},
   {"data": {"values": [{"label": "spearman"}]}, "mark": {"type": "text", "fontSize": 17, "color": "#1a1a1a", "baseline": "middle"},
    "encoding": {"x": {"datum": 8.75, "type": "quantitative"}, "y": {"datum": 0.2306, "type": "quantitative"}, "text": {"field": "label", "type": "nominal"}}},
   {"data": {"name": "pts"}, "transform": [{"filter": "datum.metric === 'spearman'"}],
    "mark": {"type": "circle", "size": 22, "opacity": 1},
    "encoding": {
     "x": {"field": "RIN", "type": "quantitative"},
     "y": {"field": "Noise", "type": "quantitative"},
     "color": {"field": "ft", "type": "nominal", "scale": {"domain": ["1", "2"], "range": ["#1a6fd1", "#e8343c"]}, "legend": null}}},
   {"data": {"name": "fit"}, "transform": [{"filter": "datum.metric === 'spearman'"}],
    "mark": {"type": "area", "opacity": 0.4},
    "encoding": {"x": {"field": "RIN", "type": "quantitative"}, "y": {"field": "lo", "type": "quantitative"}, "y2": {"field": "hi"}, "color": {"field": "ft", "type": "nominal", "legend": null}}},
   {"data": {"name": "fit"}, "transform": [{"filter": "datum.metric === 'spearman'"}],
    "mark": {"type": "line", "strokeWidth": 2},
    "encoding": {"x": {"field": "RIN", "type": "quantitative"}, "y": {"field": "fit", "type": "quantitative"}, "color": {"field": "ft", "type": "nominal", "legend": null}}}
  ]}
]
}
]
},
{
"spacing": 0,
"resolve": {"scale": {"color": "independent", "shape": "independent"}},
"vconcat": [
 {"width": 437, "height": 160,
  "data": {"name": "glm"}, "transform": [{"filter": "datum.key === 'none'"}],
  "mark": {"type": "point", "filled": true, "opacity": 1},
  "encoding": {
   "color": {"field": "key", "type": "nominal",
    "scale": {"domain": ["ft", "1", "2", "pv", "sig", "ns", "2x"], "range": ["rgba(0,0,0,0)", "#2d72b6", "#c2262f", "rgba(0,0,0,0)", "#2b2b2b", "#2b2b2b", "#c2262f"]},
    "legend": {"values": ["ft", "1", "2", "pv", "sig", "ns"], "title": null, "orient": "none", "legendX": -110, "legendY": -26, "labelExpr": "datum.value === 'ft' ? 'Freeze-Thaw' : datum.value === 'pv' ? 'p-value' : datum.value === 'sig' ? 'p \u00a0≤\u00a0 0.05' : datum.value === 'ns' ? 'p > 0.05' : datum.label", "labelFontSize": 19, "labelColor": "#262626", "symbolSize": 64, "symbolOpacity": 1, "rowPadding": 7, "padding": 8, "strokeColor": "#cccccc", "cornerRadius": 4, "fillColor": "#ffffff", "symbolOffset": 10, "labelOffset": 24, "symbolStrokeWidth": 0}},
   "shape": {"field": "key", "type": "nominal",
    "scale": {"domain": ["ft", "1", "2", "pv", "sig", "ns", "2x"], "range": ["circle", "circle", "circle", "circle", "circle", "M-0.6,-1L0,-0.4L0.6,-1L1,-0.6L0.4,0L1,0.6L0.6,1L0,0.4L-0.6,1L-1,0.6L-0.4,0L-1,-0.6Z", "M-0.6,-1L0,-0.4L0.6,-1L1,-0.6L0.4,0L1,0.6L0.6,1L0,0.4L-0.6,1L-1,0.6L-0.4,0L-1,-0.6Z"]},
    "legend": {"values": ["ft", "1", "2", "pv", "sig", "ns"], "title": null, "orient": "none", "legendX": -110, "legendY": -26, "labelExpr": "datum.value === 'ft' ? 'Freeze-Thaw' : datum.value === 'pv' ? 'p-value' : datum.value === 'sig' ? 'p \u00a0≤\u00a0 0.05' : datum.value === 'ns' ? 'p > 0.05' : datum.label", "labelFontSize": 19, "labelColor": "#262626", "symbolSize": 64, "symbolOpacity": 1, "rowPadding": 7, "padding": 8, "strokeColor": "#cccccc", "cornerRadius": 4, "fillColor": "#ffffff", "symbolOffset": 10, "labelOffset": 24, "symbolStrokeWidth": 0}}}},
 {"width": 437, "height": 426,
  "view": {"stroke": "#262626", "strokeWidth": 1.5},
  "title": {"text": "b", "orient": "left", "angle": 0, "anchor": "end", "frame": "group", "align": "center", "baseline": "alphabetic", "offset": -12, "dy": 5, "fontSize": 21, "fontWeight": "bold", "color": "#000000"},
  "layer": [
   {"data": {"name": "glm"}, "transform": [{"filter": "datum.key === '1'"}],
    "mark": {"type": "rule", "strokeDash": [7, 4], "strokeWidth": 2, "color": "#a6cfe7"},
    "encoding": {
     "x": {"field": "metric", "type": "nominal", "sort": null, "scale": {"type": "point", "domain": ["euclidean", "rmse", "pearson", "spearman"], "padding": 0.172}, "axis": {"title": "GLM(Noise ~ RIN)", "labelAngle": 0, "labelFontSize": 25, "labelColor": "#262626", "ticks": false, "domain": false, "grid": false, "labelPadding": 12, "titleFontSize": 30, "titleFontWeight": "normal", "titleColor": "#262626", "titlePadding": 4}},
     "y": {"field": "dn", "type": "quantitative", "scale": {"domain": [-0.04, 0.01], "nice": false, "zero": false}, "axis": {"title": "ΔN", "values": [-0.04, -0.03, -0.02, -0.01, 0, 0.01], "tickCount": 12, "format": ".2f", "labelFontSize": 21, "labelColor": "#262626", "ticks": false, "domain": false, "grid": false, "labelPadding": 17, "labelOverlap": false, "titleFontSize": 29, "titleFontWeight": "normal", "titleColor": "#262626", "titlePadding": 1}},
     "y2": {"datum": 0}}},
   {"data": {"name": "glm"},
    "mark": {"type": "point", "filled": true, "size": 110, "opacity": 1},
    "encoding": {
     "x": {"field": "metric", "type": "nominal", "sort": null},
     "y": {"field": "dn", "type": "quantitative"},
     "color": {"field": "key", "type": "nominal",
      "scale": {"domain": ["ft", "1", "2", "pv", "sig", "ns", "2x"], "range": ["rgba(0,0,0,0)", "#2d72b6", "#c2262f", "rgba(0,0,0,0)", "#2b2b2b", "#2b2b2b", "#c2262f"]}, "legend": null},
     "shape": {"field": "key", "type": "nominal",
      "scale": {"domain": ["ft", "1", "2", "pv", "sig", "ns", "2x"], "range": ["circle", "circle", "circle", "circle", "circle", "M-0.6,-1L0,-0.4L0.6,-1L1,-0.6L0.4,0L1,0.6L0.6,1L0,0.4L-0.6,1L-1,0.6L-0.4,0L-1,-0.6Z", "M-0.6,-1L0,-0.4L0.6,-1L1,-0.6L0.4,0L1,0.6L0.6,1L0,0.4L-0.6,1L-1,0.6L-0.4,0L-1,-0.6Z"]}, "legend": null}}}
  ]}
]
}
],
"spacing": 20,
"resolve": {"scale": {"color": "independent", "shape": "independent"}}
}
